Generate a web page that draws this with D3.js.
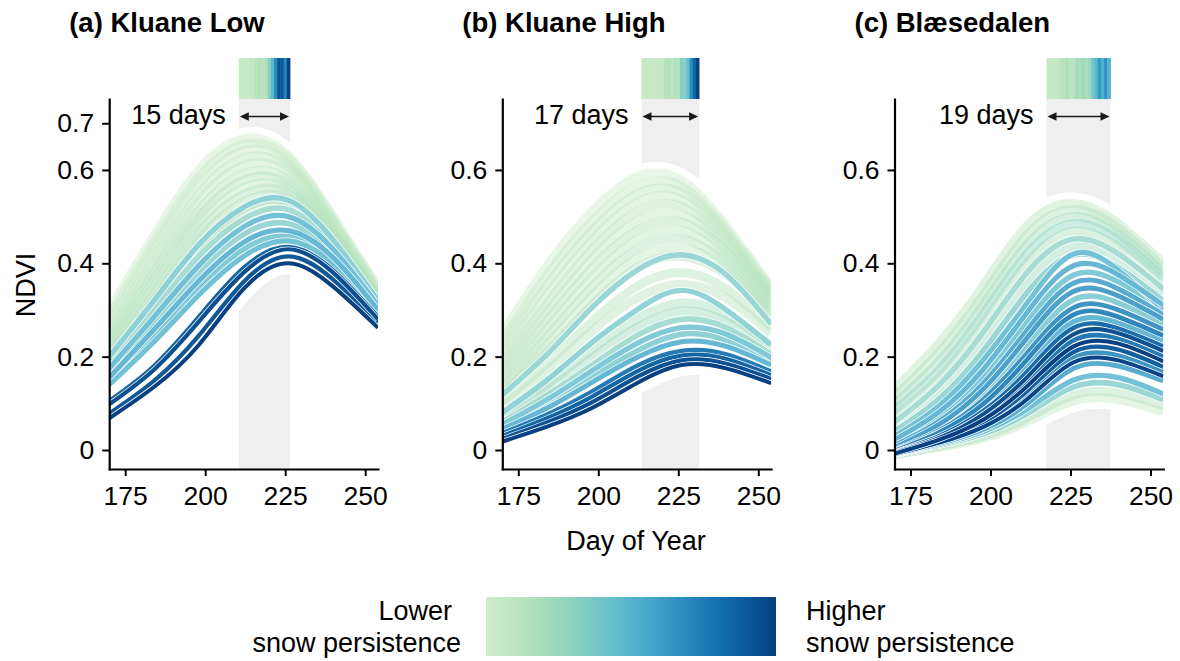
<!DOCTYPE html>
<html><head><meta charset="utf-8">
<script src="https://cdn.jsdelivr.net/npm/d3@7"></script>
<style>
body{margin:0;background:#fff}
svg{display:block}
text{font-family:"Liberation Sans",Arial,Helvetica,sans-serif;fill:#000}
</style>
</head><body>
<svg id="chart" width="1180" height="661"></svg>
<script>
// ---------- data ----------
const days = [170,184,198,212,226,240,254];
const xTicks = [175,200,225,250];
const yTicksA = [0,0.2,0.4,0.6,0.7];
const yTicksBC = [0,0.2,0.4,0.6];
const panelTitles = ["(a) Kluane Low","(b) Kluane High","(c) Blæsedalen"];
const spanLabels = ["15 days","17 days","19 days"];
const stripStart = [211,214,218];
const stripA = [0.02,0.03,0.02,0.03,0.04,0.10,0.12,0.10,0.12,0.28,0.45,0.68,0.92,0.90,0.70,1.00];
const stripB = [0.02,0.02,0.03,0.02,0.03,0.02,0.03,0.10,0.12,0.08,0.12,0.10,0.30,0.30,0.42,0.65,0.82,1.00];
const stripC = [0.02,0.02,0.03,0.03,0.08,0.10,0.14,0.08,0.10,0.18,0.16,0.20,0.15,0.22,0.38,0.45,0.62,0.50,0.65,0.48];

const snowA = [0.02,0.05,0.03,0.08,0.06,0.10,0.12,0.08,0.15,0.12,0.18,0.14,0.20,0.40,0.30,0.50,0.35,0.55,0.45,0.50,0.88,0.95,0.92,1.00];
const ndviA = [
 [0.300,0.460,0.600,0.667,0.630,0.500,0.350],
 [0.285,0.445,0.585,0.655,0.625,0.495,0.345],
 [0.270,0.430,0.570,0.642,0.615,0.490,0.340],
 [0.255,0.410,0.550,0.625,0.605,0.485,0.338],
 [0.245,0.395,0.535,0.610,0.595,0.480,0.335],
 [0.235,0.380,0.515,0.592,0.580,0.470,0.330],
 [0.225,0.365,0.500,0.578,0.570,0.465,0.325],
 [0.215,0.350,0.485,0.562,0.560,0.458,0.320],
 [0.205,0.335,0.468,0.548,0.550,0.452,0.318],
 [0.195,0.320,0.452,0.532,0.540,0.445,0.315],
 [0.188,0.308,0.436,0.518,0.530,0.440,0.310],
 [0.180,0.298,0.420,0.505,0.520,0.435,0.305],
 [0.170,0.285,0.405,0.490,0.510,0.430,0.300],
 [0.200,0.320,0.440,0.520,0.535,0.450,0.320],
 [0.185,0.300,0.415,0.495,0.515,0.440,0.315],
 [0.175,0.285,0.395,0.478,0.500,0.430,0.310],
 [0.165,0.270,0.380,0.462,0.485,0.420,0.305],
 [0.155,0.258,0.362,0.445,0.470,0.412,0.300],
 [0.148,0.245,0.348,0.430,0.458,0.405,0.295],
 [0.140,0.232,0.332,0.415,0.448,0.398,0.290],
 [0.105,0.180,0.285,0.390,0.435,0.385,0.285],
 [0.098,0.172,0.275,0.380,0.430,0.380,0.280],
 [0.078,0.148,0.245,0.360,0.415,0.365,0.272],
 [0.068,0.135,0.225,0.345,0.400,0.350,0.262]
];

const snowB = [0.02,0.05,0.08,0.04,0.10,0.06,0.12,0.08,0.14,0.06,0.15,0.35,0.12,0.10,0.38,0.18,0.22,0.30,0.45,0.40,0.55,0.80,0.88,0.94,1.00];
const ndviB = [
 [0.250,0.395,0.510,0.585,0.578,0.480,0.350],
 [0.235,0.375,0.490,0.565,0.565,0.472,0.345],
 [0.220,0.355,0.470,0.548,0.552,0.465,0.340],
 [0.205,0.335,0.450,0.530,0.538,0.455,0.335],
 [0.190,0.315,0.430,0.510,0.522,0.445,0.330],
 [0.178,0.298,0.410,0.490,0.505,0.435,0.322],
 [0.165,0.280,0.390,0.470,0.488,0.425,0.315],
 [0.152,0.262,0.370,0.450,0.470,0.412,0.308],
 [0.140,0.245,0.350,0.430,0.452,0.400,0.300],
 [0.130,0.228,0.330,0.410,0.433,0.388,0.292],
 [0.120,0.212,0.310,0.390,0.415,0.375,0.285],
 [0.118,0.205,0.305,0.385,0.418,0.375,0.270],
 [0.105,0.185,0.275,0.350,0.380,0.345,0.262],
 [0.095,0.170,0.255,0.325,0.355,0.325,0.250],
 [0.080,0.150,0.230,0.300,0.342,0.300,0.225],
 [0.075,0.140,0.215,0.280,0.315,0.290,0.225],
 [0.068,0.128,0.198,0.262,0.298,0.275,0.215],
 [0.060,0.118,0.182,0.245,0.280,0.262,0.205],
 [0.055,0.108,0.170,0.228,0.262,0.248,0.198],
 [0.050,0.100,0.158,0.212,0.248,0.235,0.190],
 [0.045,0.090,0.145,0.198,0.232,0.222,0.182],
 [0.036,0.076,0.125,0.180,0.212,0.205,0.168],
 [0.030,0.068,0.114,0.168,0.202,0.195,0.160],
 [0.024,0.059,0.102,0.156,0.192,0.185,0.152],
 [0.018,0.050,0.090,0.143,0.182,0.175,0.143]
];

const snowC = [0.10,0.15,0.20,0.28,0.16,0.30,0.22,0.35,0.50,0.55,0.45,0.60,0.65,0.42,0.70,0.75,0.55,0.85,0.95,0.80,1.00,0.90,0.70,0.98,0.60,0.50,0.35,0.15,0.05];
const ndviC = [
 [0.130,0.230,0.355,0.485,0.528,0.485,0.400],
 [0.115,0.210,0.335,0.465,0.515,0.475,0.390],
 [0.100,0.190,0.315,0.445,0.500,0.462,0.380],
 [0.085,0.172,0.295,0.425,0.485,0.450,0.370],
 [0.072,0.155,0.275,0.405,0.468,0.435,0.358],
 [0.060,0.140,0.255,0.385,0.452,0.420,0.345],
 [0.050,0.125,0.235,0.365,0.435,0.405,0.332],
 [0.040,0.110,0.215,0.342,0.418,0.390,0.320],
 [0.030,0.095,0.195,0.320,0.420,0.385,0.300],
 [0.022,0.082,0.175,0.300,0.395,0.375,0.310],
 [0.015,0.072,0.160,0.280,0.375,0.360,0.300],
 [0.010,0.062,0.145,0.262,0.358,0.345,0.290],
 [0.005,0.055,0.132,0.245,0.340,0.330,0.280],
 [0.002,0.048,0.120,0.228,0.322,0.315,0.270],
 [0.000,0.042,0.110,0.212,0.305,0.300,0.258],
 [-0.002,0.038,0.100,0.198,0.290,0.285,0.245],
 [-0.004,0.034,0.092,0.185,0.275,0.272,0.235],
 [-0.005,0.030,0.085,0.172,0.262,0.260,0.222],
 [-0.006,0.026,0.078,0.160,0.248,0.250,0.212],
 [-0.007,0.024,0.072,0.150,0.235,0.238,0.200],
 [-0.008,0.022,0.066,0.140,0.222,0.228,0.190],
 [-0.008,0.020,0.060,0.130,0.210,0.215,0.178],
 [-0.009,0.018,0.055,0.120,0.198,0.202,0.168],
 [-0.009,0.016,0.050,0.112,0.188,0.192,0.158],
 [-0.010,0.014,0.045,0.102,0.175,0.180,0.148],
 [-0.010,0.012,0.040,0.090,0.150,0.155,0.120],
 [-0.010,0.010,0.035,0.080,0.135,0.140,0.108],
 [-0.010,0.008,0.030,0.070,0.118,0.122,0.095],
 [-0.010,0.006,0.026,0.062,0.105,0.108,0.082]
];

// ---------- drawing ----------
const svg = d3.select("#chart");
const color = t => d3.interpolateGnBu(0.25 + 0.75 * t);
const defs = svg.append("defs");

const panels = [
  {x0:109.2, ndvi:ndviA, snow:snowA, strip:stripA, yTicks:yTicksA},
  {x0:502.3, ndvi:ndviB, snow:snowB, strip:stripB, yTicks:yTicksBC},
  {x0:894.5, ndvi:ndviC, snow:snowC, strip:stripC, yTicks:yTicksBC}
];
const plotTop = 99, plotBottom = 469, pxPerDay = 3.2;
const fmt = d => d === 0 ? "0" : d3.format(".1f")(d);
const FS = 27;

panels.forEach((p, i) => {
  const x = d3.scaleLinear().domain([170, 254]).range([p.x0, p.x0 + 84 * pxPerDay]);
  const y = d3.scaleLinear().domain([-0.0407, 0.752]).range([plotBottom, plotTop]);
  const g = svg.append("g");
  const clipId = "clip" + i;
  defs.append("clipPath").attr("id", clipId).append("rect")
    .attr("x", x.range()[0]).attr("y", plotTop)
    .attr("width", x.range()[1] - x.range()[0]).attr("height", plotBottom - plotTop);
  const plot = g.append("g").attr("clip-path", `url(#${clipId})`);

  const s0 = stripStart[i];
  const bandL = x(s0 - 0.5), bandR = x(s0 + p.strip.length - 0.5);
  plot.append("rect").attr("x", bandL).attr("y", plotTop)
    .attr("width", bandR - bandL).attr("height", plotBottom - plotTop).attr("fill", "#efefef");

  const line = d3.line().x((d, j) => x(days[j])).y(d => y(d)).curve(d3.curveNatural);
  const curves = p.ndvi.map((v, k) => ({v, t: p.snow[k]})).sort((a, b) => a.t - b.t);

  plot.selectAll("path.halo").data(curves).join("path").attr("class", "halo")
    .attr("d", d => line(d.v)).attr("fill", "none")
    .attr("stroke", "#fff").attr("stroke-width", 22);

  curves.forEach(c => {
    const light = c.t < 0.3;
    const w = light ? 9 : 6.4 - 2.4 * c.t;
    if (!light) {
      plot.append("path").attr("d", line(c.v)).attr("fill", "none")
        .attr("stroke", "#fff").attr("stroke-width", w + 1.4);
    }
    plot.append("path").attr("d", line(c.v)).attr("fill", "none")
      .attr("stroke", color(c.t)).attr("stroke-width", w)
      .attr("stroke-opacity", light ? 0.42 : 0.6 + 0.4 * c.t);
  });

  // colour strip above the plot
  g.selectAll("rect.strip").data(p.strip).join("rect").attr("class", "strip")
    .attr("x", (d, j) => x(s0 + j - 0.5))
    .attr("width", (d, j) => x(s0 + j + 0.5) - x(s0 + j - 0.5) + 0.4)
    .attr("y", 58).attr("height", plotTop - 58)
    .attr("fill", d => color(d));

  // arrow
  const ay = 116.5, ah = 9, aw = 4.2;
  g.append("line").attr("x1", bandL + 3).attr("x2", bandR - 3).attr("y1", ay).attr("y2", ay)
    .attr("stroke", "#1a1a1a").attr("stroke-width", 1.7);
  g.append("path").attr("d", `M${bandL + 1},${ay}L${bandL + 1 + ah},${ay - aw}L${bandL + 1 + ah},${ay + aw}Z`).attr("fill", "#1a1a1a");
  g.append("path").attr("d", `M${bandR - 1},${ay}L${bandR - 1 - ah},${ay - aw}L${bandR - 1 - ah},${ay + aw}Z`).attr("fill", "#1a1a1a");
  g.append("text").attr("x", bandL - 13).attr("y", 123.5).attr("text-anchor", "end")
    .attr("font-size", FS).text(spanLabels[i]);

  // axes
  const xa = g.append("g").attr("transform", `translate(0,${plotBottom})`)
    .call(d3.axisBottom(x).tickValues(xTicks).tickSize(7).tickSizeOuter(0).tickPadding(10));
  const ya = g.append("g").attr("transform", `translate(${p.x0},0)`)
    .call(d3.axisLeft(y).tickValues(p.yTicks).tickFormat(fmt).tickSize(7).tickSizeOuter(0).tickPadding(8));
  [xa, ya].forEach(a => {
    a.select(".domain").attr("stroke", "#000").attr("stroke-width", 2.2).attr("stroke-linecap", "square");
    a.selectAll(".tick line").attr("stroke", "#000").attr("stroke-width", 2);
    a.selectAll(".tick text").attr("font-size", 26.5).attr("fill", "#000")
      .attr("font-family", '"Liberation Sans",Arial,sans-serif');
  });

  g.append("text").attr("x", p.x0 - 40).attr("y", 32).attr("font-size", 27.5)
    .attr("font-weight", "bold").text(panelTitles[i]);
});

// axis titles
svg.append("text").attr("transform", "translate(35,285) rotate(-90)")
  .attr("text-anchor", "middle").attr("font-size", FS).text("NDVI");
svg.append("text").attr("x", 636).attr("y", 550).attr("text-anchor", "middle")
  .attr("font-size", FS).text("Day of Year");

// legend
const grad = defs.append("linearGradient").attr("id", "leg").attr("x1", "0%").attr("x2", "100%");
d3.range(0, 1.0001, 0.1).forEach(s => {
  grad.append("stop").attr("offset", (s * 100) + "%").attr("stop-color", d3.interpolateGnBu(0.22 + 0.78 * s));
});
svg.append("rect").attr("x", 486).attr("y", 597).attr("width", 290).attr("height", 59).attr("fill", "url(#leg)");
svg.append("text").attr("x", 452).attr("y", 620).attr("text-anchor", "end").attr("font-size", FS).text("Lower");
svg.append("text").attr("x", 461).attr("y", 652).attr("text-anchor", "end").attr("font-size", FS).text("snow persistence");
svg.append("text").attr("x", 806).attr("y", 620).attr("font-size", FS).text("Higher");
svg.append("text").attr("x", 806).attr("y", 652).attr("font-size", FS).text("snow persistence");
</script>
</body></html>
